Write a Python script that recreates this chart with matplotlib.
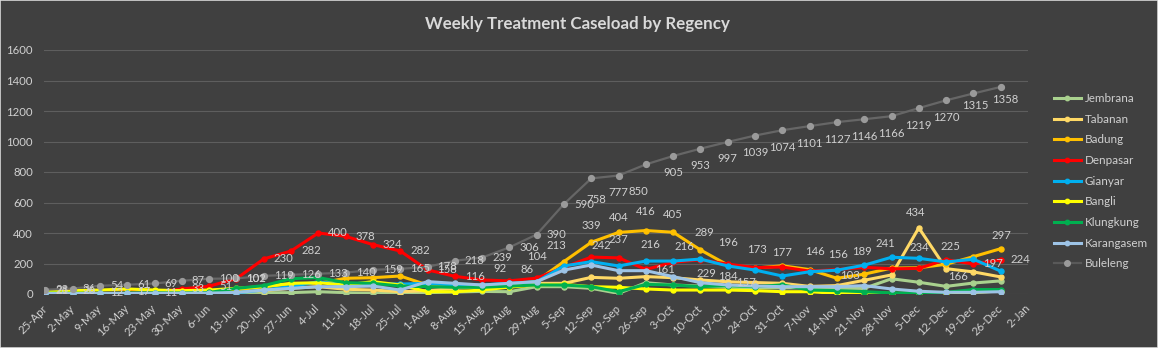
import matplotlib
matplotlib.use("Agg")
import matplotlib.pyplot as plt
from matplotlib.patches import Rectangle
from matplotlib.lines import Line2D

# weekly categories (2-Jan has no data yet)
weeks = ["25-Apr", "2-May", "9-May", "16-May", "23-May", "30-May", "6-Jun", "13-Jun",
         "20-Jun", "27-Jun", "4-Jul", "11-Jul", "18-Jul", "25-Jul", "1-Aug", "8-Aug",
         "15-Aug", "22-Aug", "29-Aug", "5-Sep", "12-Sep", "19-Sep", "26-Sep", "3-Oct",
         "10-Oct", "17-Oct", "24-Oct", "31-Oct", "7-Nov", "14-Nov", "21-Nov", "28-Nov",
         "5-Dec", "12-Dec", "19-Dec", "26-Dec", "2-Jan"]

jembrana = [3, 2, 2, 3, 3, 2, 3, 5, 8, 9, 15, 9, 4, 2, 9, 13, 17, 15, 48, 48, 37, 4, 74, 59,
            52, 45, 40, 40, 41, 37, 37, 100, 77, 50, 72, 86]
tabanan = [5, 8, 10, 10, 12, 10, 12, 15, 22, 37, 48, 31, 26, 15, 22, 37, 48, 59, 70, 70, 109,
           103, 114, 107, 92, 80, 75, 70, 50, 55, 90, 125, 434, 166, 145, 112]
badung = [22, 20, 18, 20, 22, 15, 22, 26, 48, 65, 70, 103, 107, 118, 59, 52, 59, 59, 85, 213,
          339, 404, 416, 405, 289, 190, 170, 185, 160, 103, 130, 170, 172, 195, 245, 297]
denpasar = [21, 26, 12, 17, 11, 33, 51, 101, 230, 282, 400, 378, 324, 282, 158, 116, 92, 86,
            104, 175, 242, 237, 161, 208, 225, 196, 173, 177, 150, 160, 175, 165, 168, 225,
            197, 224]
gianyar = [2, 3, 3, 3, 4, 4, 5, 8, 26, 48, 81, 59, 70, 65, 70, 59, 59, 70, 81, 184, 212, 184,
           216, 216, 229, 184, 157, 118, 146, 156, 189, 241, 234, 210, 228, 150]
bangli = [15, 22, 26, 33, 26, 22, 26, 37, 48, 70, 74, 59, 81, 59, 15, 15, 26, 45, 59, 63, 48,
          44, 33, 26, 26, 26, 22, 15, 15, 4, 7, 4, 4, 5, 10, 20]
klungkung = [5, 5, 6, 8, 8, 7, 10, 37, 55, 100, 108, 74, 70, 52, 48, 44, 44, 52, 59, 59, 48,
             15, 63, 59, 48, 55, 48, 60, 26, 22, 15, 7, 7, 11, 29, 29]
karangasem = [3, 3, 4, 4, 5, 5, 6, 10, 26, 37, 48, 48, 52, 26, 81, 70, 59, 70, 81, 157, 190,
              153, 153, 114, 74, 59, 52, 48, 48, 48, 55, 33, 18, 11, 11, 15]
buleleng = [28, 36, 54, 61, 69, 87, 100, 102, 119, 126, 133, 140, 159, 165, 178, 218, 239, 306,
            390, 590, 758, 777, 850, 905, 953, 997, 1039, 1074, 1101, 1127, 1146, 1166, 1219,
            1270, 1315, 1358]

names = ["Jembrana", "Tabanan", "Badung", "Denpasar", "Gianyar", "Bangli", "Klungkung",
         "Karangasem", "Buleleng"]
series = [jembrana, tabanan, badung, denpasar, gianyar, bangli, klungkung, karangasem, buleleng]
colors = ["#a9d18e", "#ffd966", "#ffc000", "#ff0000", "#00b0f0", "#ffff00", "#00b050",
          "#9dc3e6", "#666666"]

# which points carry a data label, with pixel offset and alignment
RIGHT = (10, 0, "left")
labels = {
    "Buleleng": {i: RIGHT for i in range(20)},
    "Denpasar": {i: RIGHT for i in range(15)},
}
labels["Buleleng"].update({i: (0, -17, "center") for i in range(20, 36)})
labels["Buleleng"][20] = (5, -21, "center")
labels["Buleleng"][22] = (-7, -27, "center")
labels["Buleleng"][34] = (2, -12, "center")
labels["Buleleng"][35] = (5, -13, "center")
labels["Denpasar"].update({15: (10, 0, "left"), 16: (18, 11, "center"), 17: (18, 11, "center"),
                           18: (0, 22, "center"), 20: (10, 12, "center"), 21: (0, 18, "center"),
                           22: (9, 0, "left"), 25: (0, 22, "center"), 26: (2, 18, "center"),
                           27: (0, 15, "center"), 33: (4, 13, "center"), 34: (10, 0, "left"),
                           35: (10, 0, "left")})
labels["Badung"] = {19: (-8, 16, "center"), 20: (0, 17, "center"), 21: (0, 15, "center"),
                    22: (0, 19, "center"), 23: (0, 18, "center"), 24: (4, 17, "center"),
                    29: (3, 3, "left"), 35: (1, 13, "center")}
labels["Gianyar"] = {22: (5, 17, "center"), 23: (11, 15, "center"), 24: (6, -14, "center"),
                     25: (0, -11, "center"), 26: (-9, -12, "center"), 28: (5, 20, "center"),
                     29: (1, 16, "center"), 30: (-2, 14, "center"), 31: (-6, 14, "center"),
                     32: (0, 11, "center")}
labels["Tabanan"] = {32: (-3, 15, "center"), 33: (2, -8, "left")}

BG = "#404040"
TXT = "#d0d0d0"
FS = 8.2
plt.rcParams["font.family"] = "Lato"

fig = plt.figure(figsize=(11.58, 3.48), dpi=100, facecolor=BG)
fig.patches.append(Rectangle((0, 0), 1, 1, transform=fig.transFigure, fill=False,
                             edgecolor="#d9d9d9", linewidth=1.2))
ax = fig.add_axes([44 / 1158, 54 / 348, 984 / 1158, 244 / 348])
ax.set_facecolor(BG)

x = list(range(len(buleleng)))
for name, vals, col in zip(names, series, colors):
    if name == "Buleleng":
        ax.plot(x, vals, color=col, lw=1.6, marker="o", ms=4.2,
                mfc="#9a9a9a", mec="#9a9a9a", zorder=3)
    else:
        ax.plot(x, vals, color=col, lw=2.2, marker="o", ms=3.6,
                mfc=col, mec=col, zorder=3)
    for i, (dx, dy, ha) in labels.get(name, {}).items():
        ax.annotate(str(vals[i]), (i, vals[i]), xytext=(dx, dy), textcoords="offset pixels",
                    ha=ha, va="center", fontsize=FS, color=TXT, zorder=5)

ax.set_xlim(-0.05, 36)
ax.set_ylim(0, 1600)
ax.set_yticks(range(0, 1601, 200))
ax.set_xticks(range(len(weeks)))
ax.set_xticklabels(weeks, rotation=45, ha="right", va="center", rotation_mode="anchor")
ax.tick_params(axis="both", length=0, colors=TXT, labelsize=FS)
ax.tick_params(axis="y", pad=8)
ax.tick_params(axis="x", pad=9)
ax.grid(axis="y", color="#5e5e5e", lw=0.8)
ax.set_axisbelow(True)
for s in ax.spines.values():
    s.set_visible(False)

fig.text(0.499, 0.93, "Weekly Treatment Caseload by Regency", ha="center", va="center",
         fontsize=12.2, fontweight="bold", color="#d9d9d9")

leg_handles = []
for name, col in zip(names, colors):
    if name == "Buleleng":
        leg_handles.append(Line2D([], [], color="#595959", lw=1.6, marker="o", ms=4,
                                  mfc="#9a9a9a", mec="#9a9a9a"))
    else:
        leg_handles.append(Line2D([], [], color=col, lw=2.2, marker="o", ms=3.2))
leg = fig.legend(leg_handles, names, loc="upper left", bbox_to_anchor=(1054 / 1158, 1 - 93 / 348),
                 frameon=False, fontsize=8.4, handlelength=2.3, handletextpad=0.35,
                 labelspacing=0.83, borderaxespad=0, borderpad=0)
for t in leg.get_texts():
    t.set_color(TXT)

fig.savefig("out.png", dpi=100, facecolor=BG)
